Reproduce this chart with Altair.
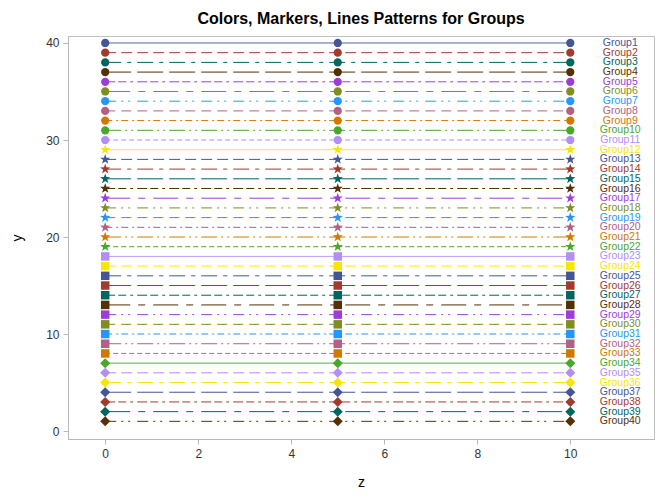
import altair as alt
import pandas as pd

groups = ["Group1", "Group2", "Group3", "Group4", "Group5", "Group6", "Group7", "Group8",
          "Group9", "Group10", "Group11", "Group12", "Group13", "Group14", "Group15", "Group16",
          "Group17", "Group18", "Group19", "Group20", "Group21", "Group22", "Group23", "Group24",
          "Group25", "Group26", "Group27", "Group28", "Group29", "Group30", "Group31", "Group32",
          "Group33", "Group34", "Group35", "Group36", "Group37", "Group38", "Group39", "Group40"]
y_values = [40, 39, 38, 37, 36, 35, 34, 33, 32, 31, 30, 29, 28, 27, 26, 25, 24, 23, 22, 21,
            20, 19, 18, 17, 16, 15, 14, 13, 12, 11, 10, 9, 8, 7, 6, 5, 4, 3, 2, 1]
z_values = [0, 5, 10]

palette = ["#445694", "#A23A2E", "#01665E", "#543005", "#9D3CDB", "#7F8E1F",
           "#2597FA", "#B26084", "#D17800", "#47A82A", "#B38EF3", "#F9E500"]
dash_patterns = [[1, 0], [11, 5], [16, 6, 4, 6], [26, 6], [10, 3, 8, 4, 3, 4], [25, 8, 7, 8],
                 [11, 5, 2, 5, 2, 7], [10, 6], [7, 4, 2, 3], [16, 4, 2, 4, 2, 4], [5, 3]]
star = ("M0,-1L0.235,-0.324L0.951,-0.309L0.380,0.124L0.588,0.809L0,0.4L-0.588,0.809"
        "L-0.380,0.124L-0.951,-0.309L-0.235,-0.324Z")
marker_cycle = ["circle", star, "square", "diamond"]
marker_sizes = [68, 115, 72, 100]

colors = [palette[i % 12] for i in range(len(groups))]
dashes = [dash_patterns[i % 11] for i in range(len(groups))]
shapes = [marker_cycle[i // 11] for i in range(len(groups))]
sizes = [marker_sizes[i // 11] for i in range(len(groups))]

rows = []
for g, yv, sz in zip(groups, y_values, sizes):
    for zv in z_values:
        rows.append({"group": g, "z": zv, "y": yv, "msize": sz})
df = pd.DataFrame(rows)

xs = alt.Scale(domain=[-0.8, 11.8], nice=False, zero=False)
ys = alt.Scale(domain=[-0.82, 40.72], nice=False, zero=False)
col = alt.Color("group:N", scale=alt.Scale(domain=groups, range=colors), legend=None)

x_enc = alt.X("z:Q", scale=xs, title="z",
              axis=alt.Axis(values=[0, 2, 4, 6, 8, 10], grid=False))
y_enc = alt.Y("y:Q", scale=ys, title="y",
              axis=alt.Axis(values=[0, 10, 20, 30, 40], grid=False))

base = alt.Chart(df)

lines = base.mark_line(strokeWidth=1).encode(
    x=x_enc, y=y_enc, color=col, detail="group:N",
    strokeDash=alt.StrokeDash("group:N", scale=alt.Scale(domain=groups, range=dashes), legend=None),
)

points = base.mark_point(filled=True, opacity=1, strokeWidth=0).encode(
    x=x_enc, y=y_enc, color=col,
    shape=alt.Shape("group:N", scale=alt.Scale(domain=groups, range=shapes), legend=None),
    size=alt.Size("msize:Q", scale=None, legend=None),
)

labels = base.transform_filter(alt.datum.z == 10).mark_text(
    align="center", baseline="middle", dx=50, fontSize=10.5, font="Liberation Sans"
).encode(x=x_enc, y=y_enc, color=col, text="group:N")

chart = alt.layer(lines, points, labels).properties(
    width=586, height=403,
    title=alt.TitleParams("Colors, Markers, Lines Patterns for Groups", fontSize=16,
                          font="Liberation Sans", fontWeight="bold", color="#000000",
                          anchor="middle", offset=9),
    padding={"left": 68, "top": 36, "right": 12, "bottom": 61},
    autosize=alt.AutoSizeParams(type="none"),
).configure_view(
    stroke="#c0c0c0", strokeWidth=1
).configure_axis(
    domainColor="#b8b8b8", tickColor="#b8b8b8", labelColor="#333333", titleColor="#000000",
    labelFont="Liberation Sans", titleFont="Liberation Sans", labelFontSize=12,
    titleFontSize=14, titleFontWeight="normal", tickSize=5, labelPadding=4,
).configure_axisX(titlePadding=16).configure_axisY(titlePadding=21)

chart.save("out.html", embed_options={"renderer": "svg", "actions": False})
